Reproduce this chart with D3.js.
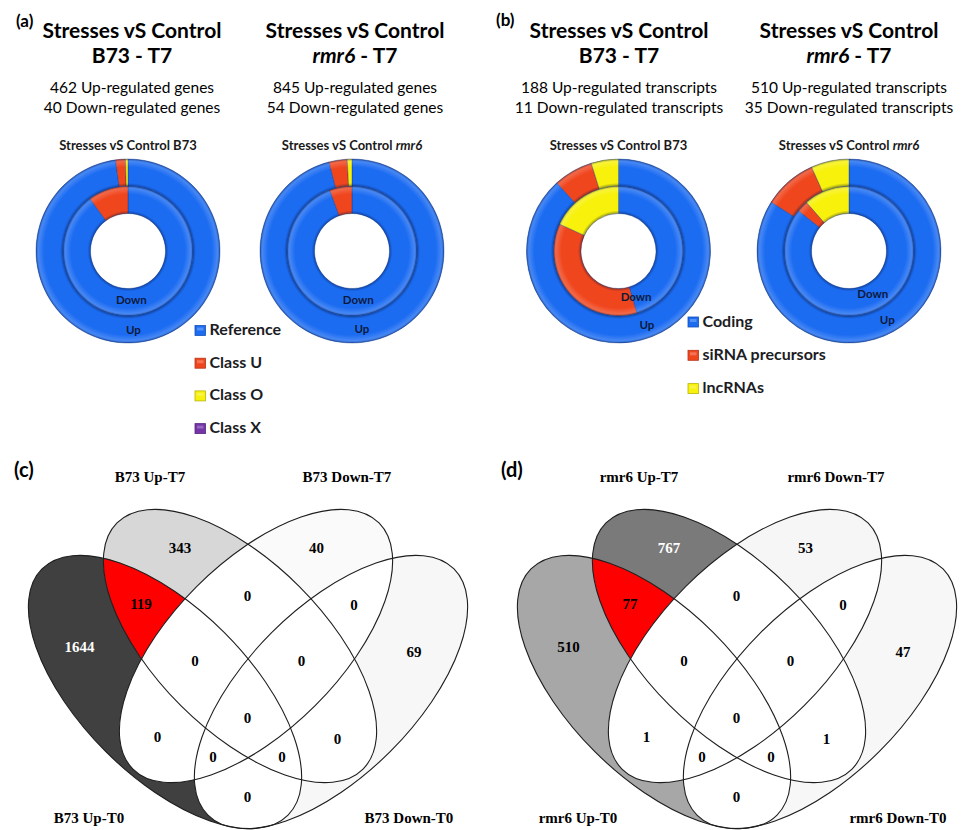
<!DOCTYPE html>
<html>
<head>
<meta charset="utf-8">
<script src="https://cdn.jsdelivr.net/npm/d3@7"></script>
<style>
  html, body { margin: 0; padding: 0; background: #ffffff; }
  svg { display: block; }
</style>
</head>
<body>
<svg id="fig" width="970" height="830"></svg>
<script>
// ---------------- data ----------------
// (a) gene classes, clockwise from 12 o'clock
const geneClasses = ["Reference", "Class U", "Class O", "Class X"];
const b73GenesUp = [452, 8, 2, 0];
const b73GenesDown = [36, 4, 0, 0];
const rmr6GenesUp = [811, 27, 7, 0];
const rmr6GenesDown = [51, 3, 0, 0];

// (b) transcript classes
const transcriptClasses = ["Coding", "siRNA precursors", "lncRNAs"];
const b73TranscriptsUp = [166, 13, 9];
const b73TranscriptsDown = [5, 4, 2];
const rmr6TranscriptsUp = [428, 48, 34];
const rmr6TranscriptsDown = [30, 1, 4];

// (c) / (d) four-set Venn diagrams; members index into the set name list
const b73Sets = ["B73 Up-T0", "B73 Up-T7", "B73 Down-T7", "B73 Down-T0"];
const rmr6Sets = ["rmr6 Up-T0", "rmr6 Up-T7", "rmr6 Down-T7", "rmr6 Down-T0"];
const vennMembers = [[0], [1], [2], [3], [0, 1], [1, 2], [2, 3], [0, 1, 2], [1, 2, 3],
                     [0, 1, 2, 3], [0, 2], [1, 3], [0, 2, 3], [0, 1, 3], [0, 3]];
const b73VennValues  = [1644, 343, 40, 69, 119, 0, 0, 0, 0, 0, 0, 0, 0, 0, 0];
const rmr6VennValues = [510, 767, 53, 47, 77, 0, 0, 0, 0, 0, 1, 1, 0, 0, 0];
const highlightMembers = "01";   // Up-T0 ∩ Up-T7 only

// ---------------- styles ----------------
const CAL = "Lato, 'Open Sans', sans-serif";
const SERIF = "'Liberation Serif', 'DejaVu Serif', serif";
const classColors = ["#1c6cf2", "#f0461e", "#f7f10b", "#7434a8"];
const inkDark = "#1a1a1a";

const svg = d3.select("#fig");
const defs = svg.append("defs");

// ---------------- headers ----------------
function header(x, strain, italic, up, down, unit) {
  const g = svg.append("g").attr("transform", `translate(${x},0)`)
    .attr("text-anchor", "middle").attr("fill", "#000").style("font-family", CAL);
  g.append("text").attr("y", 37.5).attr("font-size", 21).attr("font-weight", 700)
    .text("Stresses vS Control");
  const t2 = g.append("text").attr("y", 63).attr("font-size", 21).attr("font-weight", 700);
  t2.append("tspan").attr("font-style", italic ? "italic" : "normal").text(strain);
  t2.append("tspan").text(" - T7");
  g.append("text").attr("y", 92.5).attr("font-size", 15.5)
    .text(`${d3.sum(up)} Up-regulated ${unit}`);
  g.append("text").attr("y", 112.5).attr("font-size", 15.5)
    .text(`${d3.sum(down)} Down-regulated ${unit}`);
}

function panelLetter(x, y, s, size) {
  svg.append("text").attr("x", x).attr("y", y).attr("font-size", size)
    .attr("font-weight", 700).style("font-family", CAL).attr("fill", "#000").text(s);
}

panelLetter(16, 27, "(a)", 17);
panelLetter(496, 26, "(b)", 17);
panelLetter(14, 477, "(c)", 20);
panelLetter(501, 477, "(d)", 20);

header(132, "B73", false, b73GenesUp, b73GenesDown, "genes");
header(355, "rmr6", true, rmr6GenesUp, rmr6GenesDown, "genes");
header(619, "B73", false, b73TranscriptsUp, b73TranscriptsDown, "transcripts");
header(849, "rmr6", true, rmr6TranscriptsUp, rmr6TranscriptsDown, "transcripts");

// ---------------- doughnuts ----------------
const R_HOLE = 37.5, R_MID = 65, R_OUT = 92;
let gradCount = 0;

function ringGloss(g, r0, r1) {
  const id = "gloss" + (gradCount++);
  const grad = defs.append("radialGradient").attr("id", id)
    .attr("gradientUnits", "userSpaceOnUse").attr("cx", 0).attr("cy", 0).attr("r", r1);
  const stops = [
    [r0 / r1, "#00103a", 0.38],
    [(r0 + 3) / r1, "#00103a", 0],
    [(r1 - 8) / r1, "#ffffff", 0],
    [(r1 - 2.5) / r1, "#ffffff", 0.18],
    [1, "#00103a", 0.42]
  ];
  stops.forEach(([o, c, a]) => grad.append("stop").attr("offset", o)
    .attr("stop-color", c).attr("stop-opacity", a));
  g.append("path")
    .attr("d", d3.arc().innerRadius(r0).outerRadius(r1).startAngle(0).endAngle(2 * Math.PI)())
    .attr("fill", `url(#${id})`);
}

function doughnut(cx, cy, strain, italic, up, down) {
  const g = svg.append("g").attr("transform", `translate(${cx},${cy})`);
  const title = svg.append("text").attr("x", cx).attr("y", 149.5).attr("text-anchor", "middle")
    .attr("font-size", 13).attr("font-weight", 700).style("font-family", CAL).attr("fill", inkDark);
  title.append("tspan").text("Stresses vS Control ");
  title.append("tspan").attr("font-style", italic ? "italic" : "normal").text(strain);

  const pie = d3.pie().sort(null).value(d => d).startAngle(0).endAngle(2 * Math.PI);
  const rings = [
    { vals: down, r0: R_HOLE, r1: R_MID, name: "Down", lr: 49 },
    { vals: up, r0: R_MID, r1: R_OUT, name: "Up", lr: 79 }
  ];
  const upArcs = pie(up);
  const labelAngle = (upArcs[0].startAngle + upArcs[0].endAngle) / 2;

  rings.forEach(ring => {
    const arc = d3.arc().innerRadius(ring.r0).outerRadius(ring.r1);
    g.append("g").selectAll("path")
      .data(pie(ring.vals).filter(d => d.value > 0))
      .join("path")
      .attr("d", arc)
      .attr("fill", d => classColors[d.index])
      .attr("stroke", "#12307a").attr("stroke-opacity", 0.45).attr("stroke-width", 0.8);
    ringGloss(g, ring.r0, ring.r1);
  });
  rings.forEach(ring => {
    g.append("text")
      .attr("x", Math.sin(labelAngle) * ring.lr)
      .attr("y", -Math.cos(labelAngle) * ring.lr)
      .attr("dy", "0.35em").attr("text-anchor", "middle")
      .attr("font-size", 11.5).attr("font-weight", 700).style("font-family", CAL)
      .attr("fill", "#0c1a3c").text(ring.name);
  });
}

doughnut(128, 251, "B73", false, b73GenesUp, b73GenesDown);
doughnut(352, 251, "rmr6", true, rmr6GenesUp, rmr6GenesDown);
doughnut(618.5, 251, "B73", false, b73TranscriptsUp, b73TranscriptsDown);
doughnut(849, 251, "rmr6", true, rmr6TranscriptsUp, rmr6TranscriptsDown);

// legends
function legend(x, y0, step, names) {
  const g = svg.append("g").attr("transform", `translate(${x},${y0})`);
  const rows = g.selectAll("g").data(names).join("g")
    .attr("transform", (d, i) => `translate(0,${i * step})`);
  rows.append("rect").attr("x", 0).attr("y", -9.5).attr("width", 10.5).attr("height", 10)
    .attr("fill", (d, i) => classColors[i])
    .attr("stroke", (d, i) => d3.color(classColors[i]).darker(0.8)).attr("stroke-width", 0.8);
  rows.append("rect").attr("x", 2).attr("y", -7.5).attr("width", 6.5).attr("height", 3)
    .attr("fill", "#ffffff").attr("opacity", 0.25);
  rows.append("text").attr("x", 14.5).attr("y", 0).attr("font-size", 16).attr("font-weight", 700)
    .style("font-family", CAL).attr("fill", "#1c1c24").text(d => d);
}
legend(195, 335, 32.7, geneClasses);
legend(688, 326.5, 33.3, transcriptClasses);

// ---------------- Venn diagrams ----------------
// four congruent ellipses, two leaning each way, in diagram-local pixels
const EA = 174, EB = 84;
const ellipses = [
  { cx: -83, cy: 46, rot: 45 },
  { cx: -8, cy: 0, rot: 45 },
  { cx: 8, cy: 0, rot: -45 },
  { cx: 83, cy: 46, rot: -45 }
];
const setLabelPos = [[-159, 177], [-98, -164], [99, -164], [161, 177]];

function ellipseNorm(e, x, y) {
  const t = e.rot * Math.PI / 180;
  const dx = x - e.cx, dy = y - e.cy;
  const u = dx * Math.cos(t) + dy * Math.sin(t);
  const v = -dx * Math.sin(t) + dy * Math.cos(t);
  const g = Math.sqrt(u * u / (EA * EA) + v * v / (EB * EB));
  const grad = g > 1e-9 ? Math.sqrt(u * u / EA ** 4 + v * v / EB ** 4) / g : 1 / EB;
  return { g, clear: Math.abs(g - 1) / grad };
}

// point of each region farthest from its borders, used to place the counts
function regionPoles() {
  const best = new Map();
  for (let y = -170; y <= 200; y += 1.5) {
    for (let x = -260; x <= 260; x += 1.5) {
      let key = "", clear = Infinity;
      ellipses.forEach((e, i) => {
        const r = ellipseNorm(e, x, y);
        if (r.g <= 1) key += i;
        clear = Math.min(clear, r.clear);
      });
      if (!key) continue;
      const cur = best.get(key);
      if (!cur || clear > cur.clear) best.set(key, { x, y, clear });
    }
  }
  return best;
}
const poles = regionPoles();

function addEllipse(sel, e) {
  return sel.append("ellipse").attr("cx", e.cx).attr("cy", e.cy).attr("rx", EA).attr("ry", EB)
    .attr("transform", `rotate(${e.rot},${e.cx},${e.cy})`);
}

function venn(id, ox, oy, setNames, values, shadeMax) {
  const g = svg.append("g").attr("transform", `translate(${ox},${oy})`);
  ellipses.forEach((e, i) => addEllipse(defs.append("clipPath").attr("id", `${id}-clip${i}`), e));

  const shade = d3.scaleLinear().domain([0, d3.max(values)]).range(["#ffffff", shadeMax]);
  const regions = vennMembers.map((m, i) => ({ members: m, key: m.join(""), value: values[i] }));

  regions.forEach(r => {
    const fill = r.key === highlightMembers ? "#ff0000" : shade(r.value);
    r.fill = fill;
    const mask = defs.append("mask").attr("id", `${id}-mask${r.key}`)
      .attr("maskUnits", "userSpaceOnUse").attr("x", -300).attr("y", -250)
      .attr("width", 600).attr("height", 500);
    mask.append("rect").attr("x", -300).attr("y", -250).attr("width", 600).attr("height", 500)
      .attr("fill", "#fff");
    ellipses.forEach((e, i) => {
      if (!r.members.includes(i)) addEllipse(mask, e).attr("fill", "#000");
    });
    let cur = g.append("g");
    r.members.slice(1).forEach(i => { cur = cur.append("g").attr("clip-path", `url(#${id}-clip${i})`); });
    cur = cur.append("g").attr("mask", `url(#${id}-mask${r.key})`);
    addEllipse(cur, ellipses[r.members[0]]).attr("fill", fill);
  });

  ellipses.forEach(e => addEllipse(g, e).attr("fill", "none").attr("stroke", "#1e1e1e")
    .attr("stroke-width", 1.1));

  regions.forEach(r => {
    const p = poles.get(r.key);
    const c = d3.color(r.fill);
    const dark = r.key !== highlightMembers && (c.r + c.g + c.b) / 3 < 140;
    g.append("text").attr("x", p.x).attr("y", p.y).attr("dy", "0.35em")
      .attr("text-anchor", "middle").attr("font-size", 15).attr("font-weight", 700)
      .style("font-family", SERIF).attr("fill", dark ? "#ffffff" : "#000000")
      .text(r.value);
  });

  setNames.forEach((s, i) => {
    g.append("text").attr("x", setLabelPos[i][0]).attr("y", setLabelPos[i][1])
      .attr("text-anchor", "middle").attr("font-size", 15).attr("font-weight", 700)
      .style("font-family", SERIF).attr("fill", "#000").text(s);
  });
}

venn("vc", 248, 646, b73Sets, b73VennValues, "#404040");
venn("vd", 737, 646, rmr6Sets, rmr6VennValues, "#7a7a7a");
</script>
</body>
</html>
